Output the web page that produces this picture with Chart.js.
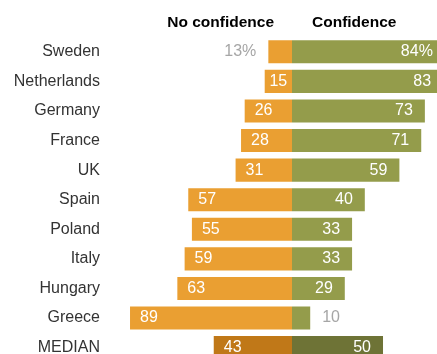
<!DOCTYPE html>
<html>
<head>
<meta charset="utf-8">
<script src="https://cdn.jsdelivr.net/npm/chart.js@4"></script>
<style>
  html, body { margin: 0; padding: 0; background: #fff; overflow: hidden; }
  #wrap { width: 460px; height: 374px; }
</style>
</head>
<body>
<div id="wrap"><canvas id="chart" width="460" height="374"></canvas></div>
<script>
// dados
const countries = ['Sweden', 'Netherlands', 'Germany', 'France', 'UK', 'Spain', 'Poland', 'Italy', 'Hungary', 'Greece', 'MEDIAN'];
const noConfidence = [13, 15, 26, 28, 31, 57, 55, 59, 63, 89, 43];
const confidence = [84, 83, 73, 71, 59, 40, 33, 33, 29, 10, 50];

const orange = '#EA9F32';
const green = '#949C4B';
const orangeMedian = '#C07818';
const greenMedian = '#6E7336';

const valueFont = '16px "Liberation Sans", Arial, sans-serif';

// cores por linha (a mediana é mais escura)
const orangeColors = countries.map((c) => (c === 'MEDIAN' ? orangeMedian : orange));
const greenColors = countries.map((c) => (c === 'MEDIAN' ? greenMedian : green));

// plugin que escreve os valores e os titulos
const labelsPlugin = {
  id: 'labelsPlugin',
  afterDatasetsDraw(chart) {
    const { ctx } = chart;
    const xScale = chart.scales.x;
    const zero = xScale.getPixelForValue(0);
    ctx.save();
    ctx.font = valueFont;
    ctx.textBaseline = 'middle';

    const metaNo = chart.getDatasetMeta(0);
    const metaYes = chart.getDatasetMeta(1);

    metaNo.data.forEach((bar, i) => {
      const text = i === 0 ? noConfidence[i] + '%' : String(noConfidence[i]);
      const w = ctx.measureText(text).width;
      const left = bar.x;
      const width = zero - left;
      if (i === 0) {
        ctx.fillStyle = '#A6A6A6';
        ctx.textAlign = 'right';
        ctx.fillText(text, left - 12, bar.y);
      } else if (width < w + 14) {
        ctx.fillStyle = '#fff';
        ctx.textAlign = 'center';
        ctx.fillText(text, left + width / 2, bar.y);
      } else {
        ctx.fillStyle = '#fff';
        ctx.textAlign = 'left';
        ctx.fillText(text, left + 10, bar.y);
      }
    });

    metaYes.data.forEach((bar, i) => {
      const text = i === 0 ? confidence[i] + '%' : String(confidence[i]);
      const right = bar.x;
      if (countries[i] === 'Greece') {
        ctx.fillStyle = '#A6A6A6';
        ctx.textAlign = 'left';
        ctx.fillText(text, right + 12, bar.y);
      } else {
        ctx.fillStyle = '#fff';
        ctx.textAlign = 'right';
        ctx.fillText(text, right - 12, bar.y);
      }
    });

    // titulos das colunas
    ctx.fillStyle = '#000';
    ctx.font = 'bold 15.5px "Liberation Sans", Arial, sans-serif';
    ctx.textAlign = 'right';
    ctx.fillText('No confidence', zero - 18, 23);
    ctx.textAlign = 'left';
    ctx.fillText('Confidence', zero + 20, 23);
    ctx.restore();
  }
};

new Chart(document.getElementById('chart'), {
  type: 'bar',
  data: {
    labels: countries,
    datasets: [
      {
        label: 'No confidence',
        data: noConfidence.map((v) => -v),
        backgroundColor: orangeColors,
        borderWidth: 0,
        barPercentage: 0.78,
        categoryPercentage: 1,
      },
      {
        label: 'Confidence',
        data: confidence,
        backgroundColor: greenColors,
        borderWidth: 0,
        barPercentage: 0.78,
        categoryPercentage: 1,
      },
    ],
  },
  options: {
    indexAxis: 'y',
    responsive: false,
    animation: false,
    events: [],
    layout: { padding: { top: 37, bottom: 3, left: 0, right: 0 } },
    plugins: {
      legend: { display: false },
      tooltip: { enabled: false },
    },
    scales: {
      x: {
        stacked: true,
        display: false,
        min: -100,
        max: 92.3,
      },
      y: {
        stacked: true,
        grid: { display: false },
        border: { display: false },
        ticks: {
          color: '#333',
          font: { family: '"Liberation Sans", Arial, sans-serif', size: 16 },
          padding: 2,
        },
        afterFit: (scale) => {
          scale.width = 110;
        },
      },
    },
  },
  plugins: [labelsPlugin],
});
</script>
</body>
</html>
